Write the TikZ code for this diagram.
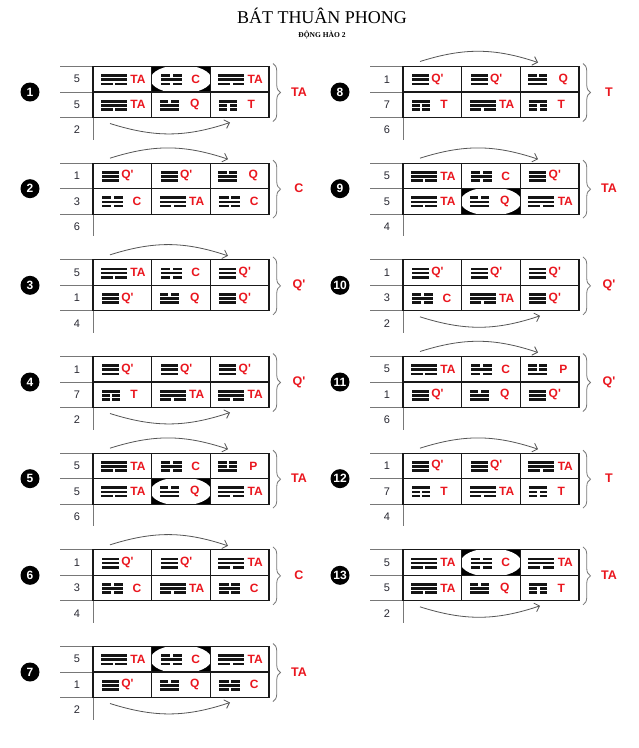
\documentclass[tikz,border=0pt]{standalone}
\usepackage{fontspec}
\setmainfont{Liberation Serif}
\newfontfamily\labfont{Liberation Sans}
\usetikzlibrary{arrows.meta,decorations.pathreplacing}
\definecolor{labred}{RGB}{234,22,30}
\definecolor{numcol}{RGB}{40,40,50}
\definecolor{linegray}{RGB}{120,120,120}
\definecolor{arcgray}{RGB}{85,85,85}
\tikzset{
 lab/.style={font=\labfont\bfseries\fontsize{12}{12}\selectfont,text=labred,inner sep=0pt},
 res/.style={font=\labfont\bfseries\fontsize{12.5}{13}\selectfont,text=labred,inner sep=0pt},
 num/.style={font=\labfont\fontsize{11}{12}\selectfont,text=numcol,inner sep=0pt},
 bul/.style={circle,fill=black,text=white,font=\labfont\bfseries\fontsize{12}{12}\selectfont,minimum size=19pt,inner sep=0pt},
 thinl/.style={draw=linegray,line width=0.7pt},
 boxl/.style={draw=black!90,line width=1.1pt},
 arcl/.style={draw=arcgray,line width=0.8pt,-{Straight Barb[length=4.5pt,width=9pt]}},
 bracel/.style={draw=linegray,line width=0.8pt,decorate,decoration={brace,amplitude=7.5pt}},
 glyph/.style={fill=black!92},
 ttl/.style={font=\fontsize{18}{20}\selectfont,inner sep=0pt},
 subttl/.style={font=\bfseries\fontsize{7.5}{8}\selectfont,inner sep=0pt},
}
% one line of a trigram: x left, y centre, width, solid(1)/broken(0)
\newcommand\tline[4]{%
 \ifnum#4=1
  \fill[glyph] ({#1},{#2-1.35}) rectangle ({#1+#3},{#2+1.35});
 \else
  \fill[glyph] ({#1},{#2-1.35}) rectangle ({#1+(#3-2.6)/2},{#2+1.35});
  \fill[glyph] ({#1+(#3+2.6)/2},{#2-1.35}) rectangle ({#1+#3},{#2+1.35});
 \fi}
\newcommand\trigram[6]{\tline{#1}{#2-4.1}{#3}{#4}\tline{#1}{#2}{#3}{#5}\tline{#1}{#2+4.1}{#3}{#6}}
% cells: name, cell left, row centre
\newcommand\cellTA[3]{\trigram{#2+8}{#3+0.5}{26}{1}{1}{0}\node[lab] (#1) at ({#2+45},{#3}) {TA};}
\newcommand\cellQp[3]{\trigram{#2+9}{#3+0.5}{17}{1}{1}{1}\node[lab] (#1) at ({#2+34.5},{#3}) {Q\textquotesingle};}
\newcommand\cellQ[3]{\trigram{#2+8}{#3+0.5}{19}{0}{1}{1}\node[lab] (#1) at ({#2+43},{#3}) {Q};}
\newcommand\cellC[3]{\trigram{#2+9}{#3+0.5}{21}{0}{1}{0}\node[lab] (#1) at ({#2+44},{#3}) {C};}
\newcommand\cellT[3]{\trigram{#2+9}{#3+0.5}{18}{1}{0}{0}\node[lab] (#1) at ({#2+41},{#3}) {T};}
\newcommand\cellP[3]{\trigram{#2+8}{#3+0.5}{19}{0}{0}{1}\node[lab] (#1) at ({#2+43},{#3}) {P};}
% highlighted cell: cell left, cell top
\newcommand\hlcell[2]{%
 \begin{scope}
  \clip ({#1},{#2}) rectangle ({#1+58.6},{#2+25.5});
  \fill[black] ({#1},{#2}) rectangle ({#1+58.6},{#2+25.5});
  \fill[white] ({#1+29.3},{#2+12.75}) ellipse [x radius=30.5,y radius=14.2];
 \end{scope}}
% table: id, box left, middle y, bullet, n1, n2, n3, result, arrow (a above / b below)
\newcommand\tbl[9]{%
 \pgfmathsetmacro\tT{#3-25.5}\pgfmathsetmacro\tB{#3+25.5}%
 \pgfmathsetmacro\xa{#2-33}\pgfmathsetmacro\xr{#2+176}%
 \pgfmathsetmacro\xc{#2+58.7}\pgfmathsetmacro\xd{#2+117.3}%
 \draw[thinl] (\xa,\tT) -- (#2,\tT) (\xa,#3) -- (#2,#3) (\xa,\tB) -- (#2,\tB) (#2,\tB) -- ({#2},{\tB+22});
 \draw[boxl] (#2,\tT) rectangle (\xr,\tB) (#2,#3) -- (\xr,#3) (\xc,\tT) -- (\xc,\tB) (\xd,\tT) -- (\xd,\tB);
 \node[num] (#1-n1) at ({#2-16},{#3-12.75}) {#5};
 \node[num] (#1-n2) at ({#2-16},{#3+12.75}) {#6};
 \node[num] (#1-n3) at ({#2-16},{#3+38}) {#7};
 \node[bul] (#1-b) at ({#2-63},{#3}) {#4};
 \draw[bracel] ({#2+180},{\tT-3}) -- ({#2+180},{\tB+4});
 \node[res] (#1-r) at ({#2+206},{#3}) {#8};
 \if a#9
  \coordinate (#1-as) at ({#2+17},{\tT-5});
  \coordinate (#1-ae) at ({#2+135},{\tT-4});
  \draw[arcl] (#1-as) to[bend left=18] (#1-ae);
 \else
  \coordinate (#1-as) at ({#2+17},{\tB+6});
  \coordinate (#1-ae) at ({#2+137},{\tB+5});
  \draw[arcl] (#1-as) to[bend right=18] (#1-ae);
 \fi}
% cells of a table: id, box left, middle y, top1..3, bottom1..3
\newcommand\cells[9]{%
 \csname cell#4\endcsname{#1-t1}{#2}{#3-12.75}%
 \csname cell#5\endcsname{#1-t2}{#2+58.7}{#3-12.75}%
 \csname cell#6\endcsname{#1-t3}{#2+117.3}{#3-12.75}%
 \csname cell#7\endcsname{#1-u1}{#2}{#3+12.75}%
 \csname cell#8\endcsname{#1-u2}{#2+58.7}{#3+12.75}%
 \csname cell#9\endcsname{#1-u3}{#2+117.3}{#3+12.75}}
\begin{document}
\begin{tikzpicture}[x=1pt,y=-1pt]
\useasboundingbox (0,0) rectangle (639,748);
\fill[white] (0,0) rectangle (639,748);
\node[ttl] (title) at (322,16) {BÁT THUÂN PHONG};
\node[subttl] (sub) at (322,34.5) {ĐỘNG HÀO 2};
% left column
\hlcell{151.7}{66.5}
\tbl{b1}{93}{92}{1}{5}{5}{2}{TA}{b}
\cells{b1}{93}{92}{TA}{C}{TA}{TA}{Q}{T}
\tbl{b2}{93}{188.67}{2}{1}{3}{6}{C}{a}
\cells{b2}{93}{188.67}{Qp}{Qp}{Q}{C}{TA}{C}
\tbl{b3}{93}{285.33}{3}{5}{1}{4}{Q\textquotesingle}{a}
\cells{b3}{93}{285.33}{TA}{C}{Qp}{Qp}{Q}{Qp}
\tbl{b4}{93}{382}{4}{1}{7}{2}{Q\textquotesingle}{b}
\cells{b4}{93}{382}{Qp}{Qp}{Qp}{T}{TA}{TA}
\hlcell{151.7}{478.67}
\tbl{b5}{93}{478.67}{5}{5}{5}{6}{TA}{a}
\cells{b5}{93}{478.67}{TA}{C}{P}{TA}{Q}{TA}
\tbl{b6}{93}{575.33}{6}{1}{3}{4}{C}{a}
\cells{b6}{93}{575.33}{Qp}{Qp}{TA}{C}{TA}{C}
\hlcell{151.7}{646.5}
\tbl{b7}{93}{672}{7}{5}{1}{2}{TA}{b}
\cells{b7}{93}{672}{TA}{C}{TA}{Qp}{Q}{C}
% right column
\tbl{b8}{403}{92}{8}{1}{7}{6}{T}{a}
\cells{b8}{403}{92}{Qp}{Qp}{Q}{T}{TA}{T}
\hlcell{461.7}{188.67}
\tbl{b9}{403}{188.67}{9}{5}{5}{4}{TA}{a}
\cells{b9}{403}{188.67}{TA}{C}{Qp}{TA}{Q}{TA}
\tbl{b10}{403}{285.33}{10}{1}{3}{2}{Q\textquotesingle}{b}
\cells{b10}{403}{285.33}{Qp}{Qp}{Qp}{C}{TA}{Qp}
\tbl{b11}{403}{382}{11}{5}{1}{6}{Q\textquotesingle}{a}
\cells{b11}{403}{382}{TA}{C}{P}{Qp}{Q}{Qp}
\tbl{b12}{403}{478.67}{12}{1}{7}{4}{T}{a}
\cells{b12}{403}{478.67}{Qp}{Qp}{TA}{T}{TA}{T}
\hlcell{461.7}{549.83}
\tbl{b13}{403}{575.33}{13}{5}{5}{2}{TA}{b}
\cells{b13}{403}{575.33}{TA}{C}{TA}{TA}{Q}{T}
\end{tikzpicture}
\end{document}
